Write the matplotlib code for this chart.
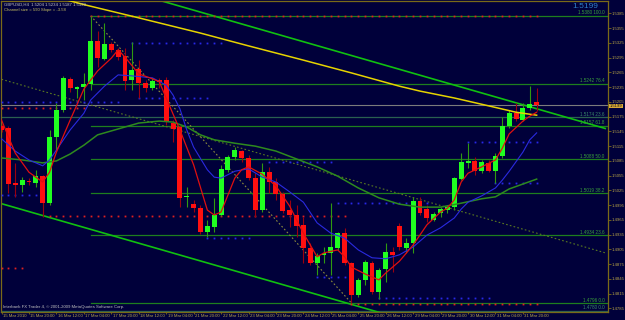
import numpy as np
import matplotlib
matplotlib.use('Agg')
import matplotlib.pyplot as plt
import matplotlib.transforms as mtransforms

plt.rcParams['font.family'] = ['Liberation Sans', 'DejaVu Sans']

# GBPUSD H4 candles (bar index 0 = 15 Mar 2010)
opens = [1.5156, 1.5152, 1.5040, 1.5036, 1.5044, 1.5040, 1.5054, 1.4999, 1.5134, 1.5189,
         1.5252, 1.5231, 1.5235, 1.5241, 1.5329, 1.5292, 1.5323, 1.5311, 1.5298, 1.5250,
         1.5272, 1.5243, 1.5233, 1.5250, 1.5250, 1.5162, 1.5154, 1.5012, 1.4997, 1.4989,
         1.4940, 1.4951, 1.4975, 1.5067, 1.5093, 1.5105, 1.5091, 1.5050, 1.4985, 1.5062,
         1.5042, 1.5018, 1.4985, 1.4975, 1.4955, 1.4908, 1.4877, 1.4894, 1.4898, 1.4908,
         1.4938, 1.4877, 1.4812, 1.4843, 1.4877, 1.4818, 1.4865, 1.4900, 1.4953, 1.4908,
         1.4918, 1.5003, 1.4987, 1.4965, 1.4979, 1.4985, 1.4991, 1.5048, 1.5081, 1.5085,
         1.5064, 1.5081, 1.5064, 1.5095, 1.5156, 1.5182, 1.5168, 1.5193, 1.5204]
highs = [1.5160, 1.5156, 1.5081, 1.5052, 1.5050, 1.5067, 1.5056, 1.5148, 1.5203, 1.5258,
         1.5256, 1.5237, 1.5264, 1.5380, 1.5349, 1.5366, 1.5327, 1.5315, 1.5315, 1.5327,
         1.5290, 1.5250, 1.5254, 1.5254, 1.5256, 1.5168, 1.5158, 1.5032, 1.5006, 1.4995,
         1.4965, 1.5010, 1.5077, 1.5097, 1.5113, 1.5107, 1.5097, 1.5060, 1.5081, 1.5073,
         1.5050, 1.5022, 1.5006, 1.4995, 1.4971, 1.4918, 1.4898, 1.4910, 1.4999, 1.4940,
         1.4949, 1.4879, 1.4847, 1.4883, 1.4881, 1.4867, 1.4918, 1.4910, 1.4959, 1.4928,
         1.5012, 1.5012, 1.4995, 1.4981, 1.4991, 1.4995, 1.5052, 1.5101, 1.5121, 1.5093,
         1.5087, 1.5087, 1.5101, 1.5174, 1.5189, 1.5203, 1.5203, 1.5237, 1.5234]
lows = [1.5144, 1.5020, 1.5012, 1.5022, 1.5036, 1.5032, 1.4971, 1.4995, 1.5107, 1.5184,
        1.5225, 1.5213, 1.5209, 1.5229, 1.5276, 1.5290, 1.5307, 1.5290, 1.5229, 1.5229,
        1.5213, 1.5225, 1.5229, 1.5233, 1.5158, 1.5123, 1.4991, 1.4991, 1.4981, 1.4936,
        1.4930, 1.4940, 1.4973, 1.5062, 1.5087, 1.5083, 1.5046, 1.4971, 1.4981, 1.5020,
        1.5006, 1.4979, 1.4951, 1.4930, 1.4877, 1.4873, 1.4853, 1.4877, 1.4853, 1.4904,
        1.4873, 1.4796, 1.4808, 1.4833, 1.4814, 1.4804, 1.4839, 1.4860, 1.4904, 1.4898,
        1.4898, 1.4975, 1.4961, 1.4963, 1.4971, 1.4979, 1.4985, 1.5046, 1.5071, 1.5056,
        1.5060, 1.5062, 1.5040, 1.5091, 1.5152, 1.5166, 1.5166, 1.5189, 1.5187]
closes = [1.5148, 1.5038, 1.5036, 1.5046, 1.5042, 1.5054, 1.4999, 1.5134, 1.5189, 1.5254,
          1.5233, 1.5235, 1.5241, 1.5329, 1.5294, 1.5323, 1.5311, 1.5296, 1.5248, 1.5270,
          1.5243, 1.5233, 1.5248, 1.5246, 1.5164, 1.5150, 1.5010, 1.5014, 1.4989, 1.4940,
          1.4953, 1.4975, 1.5069, 1.5093, 1.5107, 1.5091, 1.5050, 1.4985, 1.5062, 1.5042,
          1.5018, 1.4983, 1.4975, 1.4953, 1.4908, 1.4877, 1.4892, 1.4898, 1.4910, 1.4938,
          1.4877, 1.4812, 1.4843, 1.4879, 1.4818, 1.4863, 1.4900, 1.4894, 1.4910, 1.4918,
          1.5003, 1.4979, 1.4969, 1.4977, 1.4987, 1.4991, 1.5050, 1.5083, 1.5085, 1.5064,
          1.5083, 1.5064, 1.5095, 1.5156, 1.5182, 1.5170, 1.5193, 1.5201, 1.5199]

date_labels = ['15 Mar 2010', '15 Mar 20:00', '16 Mar 12:00', '17 Mar 04:00', '17 Mar 20:00',
               '18 Mar 12:00', '19 Mar 04:00', '21 Mar 20:00', '22 Mar 12:00', '23 Mar 04:00',
               '23 Mar 20:00', '24 Mar 12:00', '25 Mar 04:00', '25 Mar 20:00', '26 Mar 12:00',
               '29 Mar 04:00', '29 Mar 20:00', '30 Mar 12:00', '31 Mar 04:00', '31 Mar 20:00']

# moving averages
red_ma_bars = [0, 2, 4, 6, 7, 8, 10, 12, 14, 16, 17, 18, 20, 22, 23, 24, 26, 28, 30, 31,
               32, 34, 35, 36, 38, 40, 42, 44, 46, 47, 49, 50, 51, 53, 55, 56, 58, 60, 62, 64,
               65, 66, 67, 68, 70, 72, 73, 74, 76, 77, 78]
red_ma = [1.5168, 1.5101, 1.5062, 1.5042, 1.5062, 1.5103, 1.5168, 1.5231, 1.5268, 1.5294,
          1.5311, 1.5296, 1.5262, 1.5252, 1.5246, 1.5213, 1.5148, 1.5077, 1.4985, 1.4975,
          1.4981, 1.5050, 1.5067, 1.5073, 1.5058, 1.5034, 1.4993, 1.4938, 1.4890, 1.4898,
          1.4904, 1.4890, 1.4869, 1.4855, 1.4843, 1.4857, 1.4881, 1.4914, 1.4955, 1.4981,
          1.4989, 1.5006, 1.5042, 1.5060, 1.5073, 1.5087, 1.5111, 1.5140, 1.5166, 1.5176, 1.5184]
blue_ma_bars = [0, 2, 4, 6, 7, 8, 10, 12, 13, 15, 17, 19, 22, 24, 25, 26, 27, 28, 30, 31,
                32, 34, 36, 38, 40, 42, 44, 46, 48, 50, 52, 54, 56, 58, 60, 62, 64, 66, 67, 68,
                70, 72, 73, 74, 76, 77, 78]
blue_ma = [1.5130, 1.5105, 1.5087, 1.5075, 1.5087, 1.5107, 1.5148, 1.5182, 1.5209, 1.5237,
           1.5260, 1.5258, 1.5254, 1.5239, 1.5219, 1.5191, 1.5148, 1.5113, 1.5067, 1.5052,
           1.5050, 1.5064, 1.5069, 1.5052, 1.5042, 1.5022, 1.5001, 1.4959, 1.4938, 1.4928,
           1.4904, 1.4888, 1.4886, 1.4894, 1.4910, 1.4934, 1.4949, 1.4969, 1.4987, 1.5001,
           1.5014, 1.5030, 1.5046, 1.5064, 1.5103, 1.5128, 1.5142]
green_ma_bars = [0, 3, 6, 8, 10, 12, 14, 17, 20, 23, 25, 27, 29, 31, 34, 37, 40, 43, 46, 49,
                 52, 55, 58, 61, 64, 67, 70, 72, 74, 76, 78]
green_ma = [1.5091, 1.5087, 1.5081, 1.5085, 1.5099, 1.5117, 1.5138, 1.5150, 1.5162, 1.5166,
            1.5164, 1.5154, 1.5138, 1.5128, 1.5121, 1.5115, 1.5105, 1.5089, 1.5073, 1.5054,
            1.5030, 1.5010, 1.4997, 1.4991, 1.4991, 1.4999, 1.5008, 1.5012, 1.5028, 1.5038, 1.5048]
yellow_ma_bars = [8, 12, 20, 29, 36, 44, 51, 58, 61, 66, 71, 75, 78]
yellow_ma = [1.5418, 1.5403, 1.5376, 1.5345, 1.5319, 1.5290, 1.5264, 1.5237, 1.5227, 1.5213,
             1.5197, 1.5184, 1.5178]

# regression channel (bar, price) anchors
chan_upper = ([0, 88], [1.5504, 1.5151])
chan_lower = ([0, 60], [1.4998, 1.4757])
chan_mid = ([0, 88], [1.5251, 1.4898])

# fibonacci from the high at bar 13 to the low at bar 51
fibo_from = (13, 1.5380)
fibo_to = (51, 1.4796)
fibo_pcts = ['100.0', '76.4', '61.8', '50.0', '38.2', '23.6', '0.0']
fibo_prices = [1.5380, 1.5242, 1.5157, 1.5088, 1.5019, 1.4934, 1.4796]
fibo2_pcts = ['23.6', '0.0']
fibo2_prices = [1.5174, 1.4780]

# dotted support / resistance levels
dot_start = [13, 19, 0, 0, 20, 7, 0, 39, 30, 46, 49, 55, 68, 72, 51, 0]
dot_end = [78, 32, 17, 12, 30, 50, 5, 48, 36, 50, 62, 71, 78, 78, 78, 3]
dot_price = [1.5380, 1.5325, 1.5205, 1.5193, 1.5213, 1.4973, 1.5016, 1.5083, 1.4928, 1.4849,
             1.4999, 1.4806, 1.5123, 1.5040, 1.4794, 1.4867]
dot_kind = ['r', 'b', 'b', 'r', 'b', 'r', 'b', 'b', 'b', 'b', 'b', 'b', 'b', 'b', 'r', 'r']

price_ticks = [1.4785 + 0.003 * k for k in range(21)]

BG = '#00003a'
FRAME = '#7a6a18'
TXT = '#b8a448'

fig = plt.figure(figsize=(6.25, 3.2), dpi=100, facecolor=BG)
ax = fig.add_axes([0.5 / 625, 8.5 / 320, 607.5 / 625, 311 / 320])
ax.set_facecolor(BG)
ax.set_xlim(-0.15, 88.4)
ax.set_ylim(1.47787, 1.54113)

trans = mtransforms.blended_transform_factory(ax.transAxes, ax.transData)

# fibo levels
for p, pct in zip(fibo_prices, fibo_pcts):
    ax.plot([fibo_from[0], 88.4], [p, p], color='#1e7e1e', lw=0.9, zorder=1)
    ax.text(0.994, p + 0.0001, '%.4f %s' % (p, pct), transform=trans, ha='right', va='bottom',
            fontsize=3.3, color='#3aa03a', zorder=6)
for p, pct in zip(fibo2_prices, fibo2_pcts):
    ax.axhline(p, color='#2a6050', lw=0.9, zorder=1)
    ax.text(0.994, p + 0.0001, '%.4f %s' % (p, pct), transform=trans, ha='right', va='bottom',
            fontsize=3.3, color='#3a8a6a', zorder=6)
ax.plot([fibo_from[0], fibo_to[0]], [fibo_from[1], fibo_to[1]], color='#8c8c3c', lw=0.8,
        ls=(0, (1.5, 2)), zorder=2)

# bid line
ax.axhline(closes[-1], color='#7c7c7c', lw=0.8, zorder=1)

# channel
ax.plot(chan_upper[0], chan_upper[1], color='#10c010', lw=1.2, zorder=2)
ax.plot(chan_lower[0], chan_lower[1], color='#10c010', lw=1.2, zorder=2)
ax.plot(chan_mid[0], chan_mid[1], color='#5a7a20', lw=0.8, ls=(0, (1.5, 2)), zorder=2)

# dotted levels
for s, e, p, k in zip(dot_start, dot_end, dot_price, dot_kind):
    xs = np.arange(s, e + 1)
    ax.plot(xs, [p] * len(xs), ls='none', marker='s', ms=1.3, mew=0,
            color='#e02020' if k == 'r' else '#2828e8', zorder=3)

# candles
x = np.arange(len(opens))
o = np.array(opens)
c = np.array(closes)
up = c >= o
ax.vlines(x[up], np.array(lows)[up], np.array(highs)[up], color='#2f9a10', lw=0.8, zorder=4)
ax.vlines(x[~up], np.array(lows)[~up], np.array(highs)[~up], color='#9a0010', lw=0.8, zorder=4)
body_h = np.maximum(np.abs(c - o), 0.00015)
ax.bar(x[up], body_h[up], bottom=np.minimum(o, c)[up], width=0.72, color='#20ff20',
       linewidth=0, zorder=5)
ax.bar(x[~up], body_h[~up], bottom=np.minimum(o, c)[~up], width=0.72, color='#ff1010',
       linewidth=0, zorder=5)

# moving averages
ax.plot(yellow_ma_bars, yellow_ma, color='#e6d400', lw=1.1, zorder=6)
ax.plot(green_ma_bars, green_ma, color='#2e8a1e', lw=1.1, zorder=6)
ax.plot(blue_ma_bars, blue_ma, color='#2a2ae0', lw=0.8, zorder=6)
ax.plot(red_ma_bars, red_ma, color='#e01010', lw=0.9, zorder=6)

# axes styling
for sp in ax.spines.values():
    sp.set_color(FRAME)
    sp.set_linewidth(0.9)
ax.yaxis.tick_right()
ax.set_yticks(price_ticks)
ax.set_yticklabels(['%.4f' % t for t in price_ticks])
ax.tick_params(axis='y', colors=FRAME, labelcolor=TXT, labelsize=3.1, length=2, width=0.6, pad=0.8)
ax.set_xticks(np.arange(0, 4 * len(date_labels), 4))
ax.set_xticklabels(date_labels, ha='left')
ax.tick_params(axis='x', colors=FRAME, labelcolor=TXT, labelsize=3.1, length=1.5, width=0.6, pad=0.2)
offset = mtransforms.ScaledTranslation(1.5 / 100, 0, fig.dpi_scale_trans)
for lbl in ax.get_xticklabels():
    lbl.set_transform(lbl.get_transform() + offset)

# texts
ax.text(0.006, 0.992, 'GBPUSD,H4  1.5204 1.5234 1.5187 1.5199', transform=ax.transAxes,
        ha='left', va='top', fontsize=3.1, color='#c8c8c8', zorder=7)
ax.text(0.006, 0.975, 'Channel size = 590 Slope = -3.58', transform=ax.transAxes,
        ha='left', va='top', fontsize=3.1, color='#c8c060', zorder=7)
ax.text(0.004, 0.008, 'Interbank FX Trader 4, \u00a9 2001-2009 MetaQuotes Software Corp.',
        transform=ax.transAxes, ha='left', va='bottom', fontsize=3.1, color='#c0c0c0', zorder=7)
ax.text(0.984, 1.5399, '%.4f' % closes[-1], transform=trans, ha='right', va='center',
        fontsize=6, color='#2f7fc8', zorder=7)
ax.text(1.003, closes[-1] - 0.0002, '%.4f' % closes[-1], transform=trans, ha='left', va='center',
        fontsize=3.0, color='#101010', zorder=8, clip_on=False,
        bbox=dict(boxstyle='square,pad=0.08', facecolor='#d8a838', edgecolor='none'))

fig.savefig('out.png', dpi=100, facecolor=BG)
